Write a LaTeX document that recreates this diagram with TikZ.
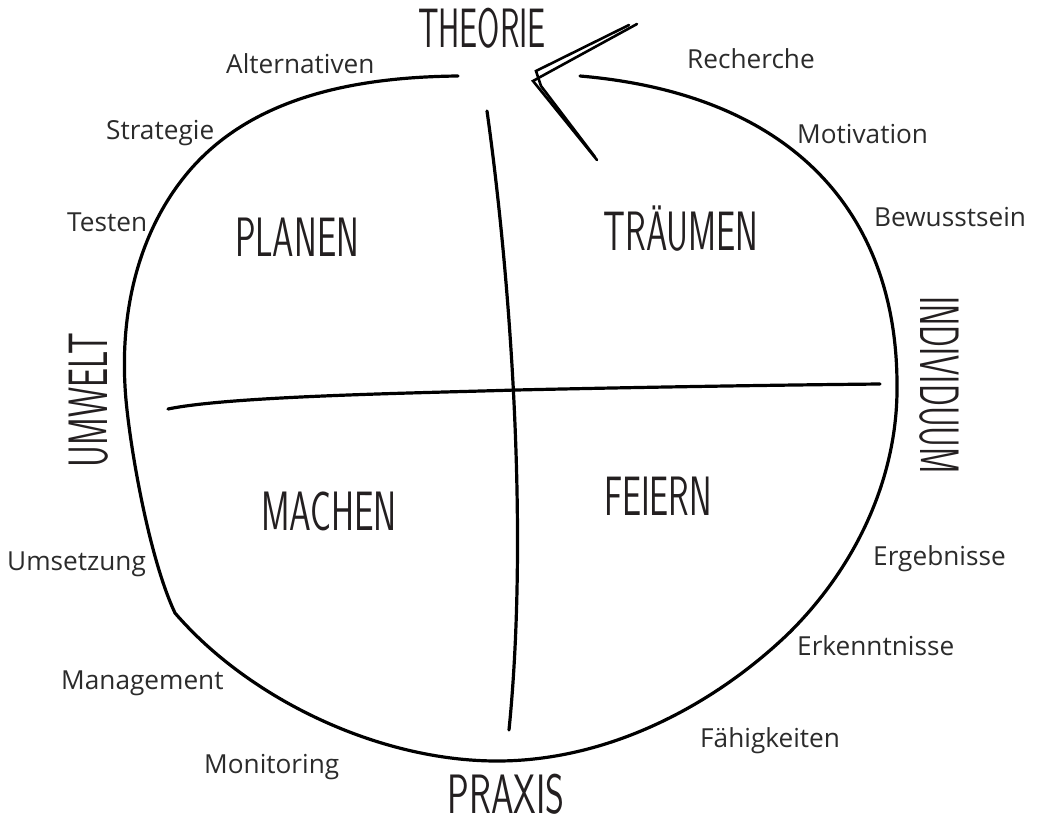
\documentclass[tikz,border=0pt]{standalone}
\usepackage{graphicx}
\usepackage{fontspec}
\newfontfamily\labelfont{Open Sans}
\definecolor{txt}{HTML}{2B2B2B}
\definecolor{ttlc}{HTML}{231F20}
\newcommand{\ttl}[2]{\resizebox{#1pt}{\height}{\fontsize{55.5}{60}\selectfont\sffamily #2}}
\tikzset{
  lbl/.style={anchor=base west, inner sep=0pt, text=txt, font=\labelfont\fontsize{26.2}{30}\selectfont},
  title/.style={anchor=base, inner sep=0pt, text=ttlc},
  stroke/.style={line width=3.2pt, line cap=round, line join=round, black},
  zig/.style={line width=2.6pt, line cap=round, line join=miter, black}
}
\begin{document}
\begin{tikzpicture}[x=1pt,y=-1pt]
\useasboundingbox (0,0) rectangle (1041,822);
% outline
\coordinate (ltop) at (458,76);
\coordinate (kink) at (175,613);
\coordinate (bot) at (497,761);
\coordinate (rtop) at (580,76);
\draw[stroke] (ltop) .. controls (360,77) and (255,95) .. (190,170)
  .. controls (140,228) and (118,310) .. (126,400)
  .. controls (131,454) and (150,560) .. (kink)
  .. controls (250,700) and (380,761) .. (bot)
  .. controls (614,761) and (720,700) .. (790,632)
  .. controls (862,560) and (898,470) .. (897,385)
  .. controls (897,220) and (800,95) .. (rtop);
% cross
\coordinate (vt) at (487,111);
\coordinate (vb) at (509,730);
\coordinate (hl) at (168,409);
\coordinate (hr) at (880,384);
\draw[stroke] (vt) .. controls (508,260) and (530,520) .. (vb);
\draw[stroke] (hl) .. controls (230,396) and (420,393) .. (516,390) .. controls (650,387) and (780,385) .. (hr);
% zigzag
\coordinate (z1) at (597,160);
\coordinate (z2) at (533,81);
\coordinate (z3) at (542,76);
\coordinate (z4) at (637,24);
\coordinate (z5) at (595,157);
\coordinate (z6) at (541,86);
\coordinate (z7) at (536,71);
\coordinate (z8) at (629,25);
\draw[zig] (z1) -- (z2) -- (z3) -- (z4);
\draw[zig] (z5) -- (z6) -- (z7) -- (z8);
% titles
\node[title] (theorie) at (482,47) {\ttl{128}{THEORIE}};
\node[title] (praxis) at (506,813) {\ttl{117}{PRAXIS}};
\node[title, rotate=90] (umwelt) at (107,400) {\ttl{135}{UMWELT}};
\node[title, rotate=-90] (individuum) at (920,385) {\ttl{178}{INDIVIDUUM}};
\node[title] (planen) at (297,256) {\ttl{124}{PLANEN}};
\node[title] (traeumen) at (681,250) {\ttl{155}{TRÄUMEN}};
\node[title] (machen) at (329,530) {\ttl{136}{MACHEN}};
\node[title] (feiern) at (658,515) {\ttl{108}{FEIERN}};
% labels
\node[lbl] (l1) at (226,73) {Alternativen};
\node[lbl] (l2) at (687,68) {Recherche};
\node[lbl] (l3) at (106,139) {Strategie};
\node[lbl] (l4) at (797,143) {Motivation};
\node[lbl] (l5) at (67,231) {Testen};
\node[lbl] (l6) at (874,226) {Bewusstsein};
\node[lbl] (l7) at (7,570) {Umsetzung};
\node[lbl] (l8) at (873,565) {Ergebnisse};
\node[lbl] (l9) at (61,689) {Management};
\node[lbl] (l10) at (797,655) {Erkenntnisse};
\node[lbl] (l11) at (204,773) {Monitoring};
\node[lbl] (l12) at (700,747) {Fähigkeiten};
\end{tikzpicture}
\end{document}
